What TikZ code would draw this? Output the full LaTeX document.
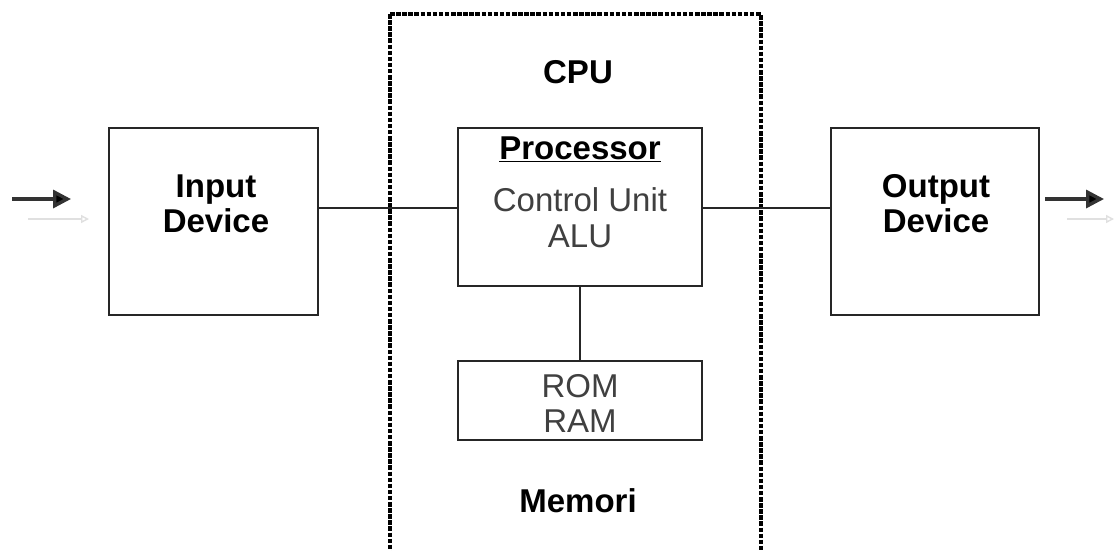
\documentclass[tikz,border=0pt]{standalone}
\usepackage{fontspec}
\setmainfont{Liberation Sans}
\usetikzlibrary{arrows.meta}
\begin{document}
\begin{tikzpicture}[x=1pt,y=-1pt,
  box/.style={draw=black!85,line width=2pt,rectangle,inner sep=0pt,fill=none},
  conn/.style={draw=black!85,line width=1.6pt},
  bold/.style={font=\fontsize{33}{37}\selectfont\bfseries,text=black,anchor=base,inner sep=0pt},
  reg/.style={font=\fontsize{33}{37}\selectfont,text=black!75,anchor=base,inner sep=0pt},
  flow/.style={line width=3.4pt,draw=black!80,-{Triangle[length=18pt,width=18pt,fill=black]}},
  ghost/.style={line width=1.4pt,draw=black!12,-{Triangle[length=8pt,width=8pt,open]}}
]
\useasboundingbox (0,0) rectangle (1115,550);
\fill[white] (0,0) rectangle (1115,550);
% CPU dashed container
\begin{scope}
\clip (0,0) rectangle (1115,550);
\draw[line width=3.4pt,dash pattern=on 4.5pt off 1.6pt] (390,14) -- (761,14) -- (761,580) (390,14) -- (390,580);
\end{scope}
% boxes
\node[box,minimum width=209pt,minimum height=187pt] (in) at (213.5,221.5) {};
\node[box,minimum width=244pt,minimum height=158pt] (proc) at (580,207) {};
\node[box,minimum width=208pt,minimum height=187pt] (out) at (935,221.5) {};
\node[box,minimum width=244pt,minimum height=79pt] (mem) at (580,400.5) {};
% texts
\node[bold] (cpu) at (578,83) {CPU};
\node[bold] (in1) at (216,197) {Input};
\node[bold] (in2) at (216,232) {Device};
\node[bold] (out1) at (936,197) {Output};
\node[bold] (out2) at (936,232) {Device};
\node[bold] (ptitle) at (580,159) {\underline{Processor}};
\node[reg] (cu) at (580,211) {Control Unit};
\node[reg] (alu) at (580,247) {ALU};
\node[reg] (rom) at (580,397) {ROM};
\node[reg] (ram) at (580,432) {RAM};
\node[bold] (memori) at (578,512) {Memori};
% connectors
\draw[conn] (in.east |- 0,208) -- (proc.west |- 0,208);
\draw[conn] (proc.east |- 0,208) -- (out.west |- 0,208);
\draw[conn] (proc.south) -- (mem.north);
% arrows
\coordinate (a1) at (12,199);
\coordinate (a2) at (71,199);
\coordinate (b1) at (1045,199);
\coordinate (b2) at (1104,199);
\draw[flow] (a1) -- (a2);
\draw[flow] (b1) -- (b2);
\coordinate (g1) at (28,219);
\coordinate (g2) at (89,219);
\coordinate (h1) at (1067,219);
\coordinate (h2) at (1114,219);
\draw[ghost] (g1) -- (g2);
\draw[ghost] (h1) -- (h2);
\end{tikzpicture}
\end{document}
